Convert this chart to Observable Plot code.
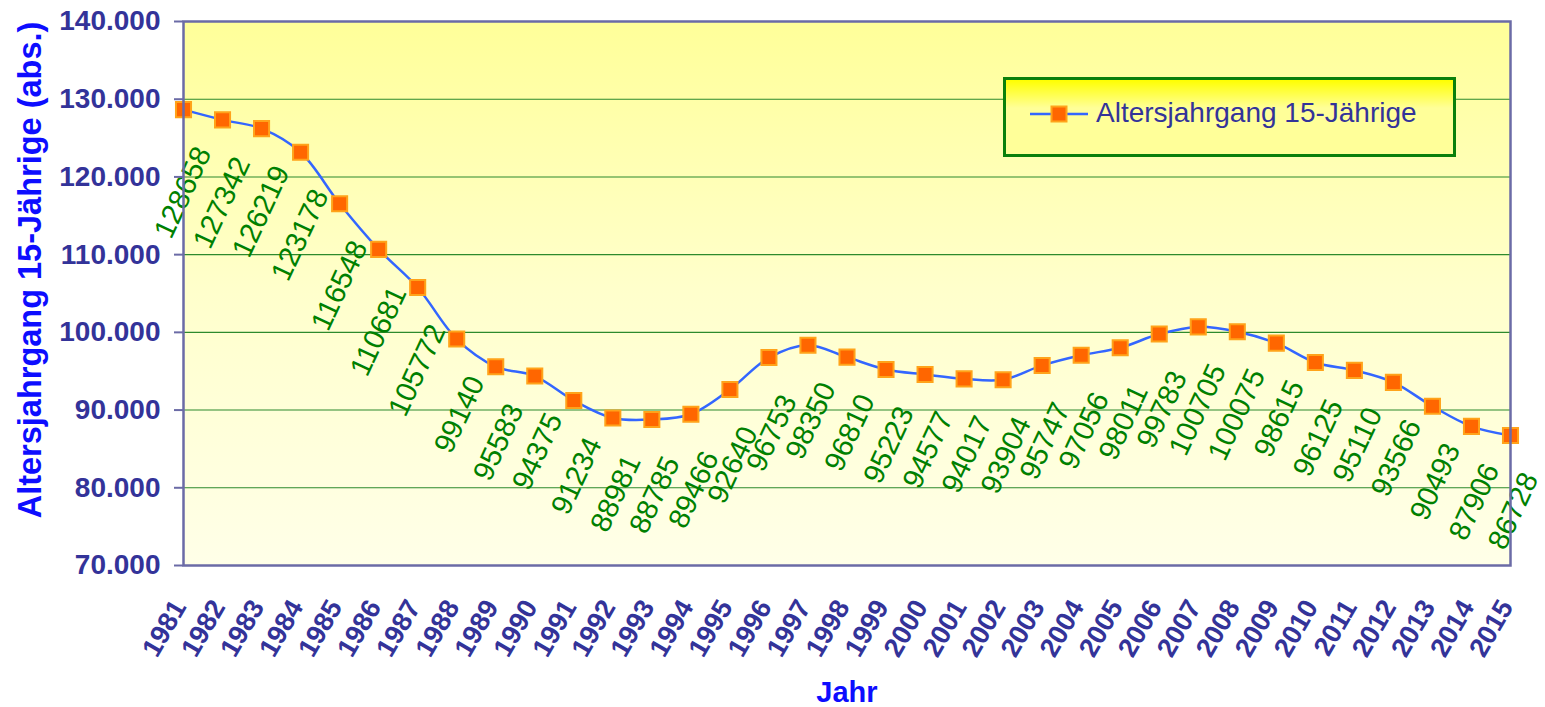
<!DOCTYPE html>
<html><head><meta charset="utf-8">
<script src="https://cdn.jsdelivr.net/npm/d3@7"></script>
<script src="https://cdn.jsdelivr.net/npm/@observablehq/plot@0.6"></script>
<style>
body{margin:0;background:#fff;}
#wrap{position:relative;width:1545px;height:707px;font-family:"Liberation Sans",Arial,sans-serif;overflow:hidden;}
#wrap > svg{position:absolute;left:0;top:0;overflow:visible;}
.ytitle{position:absolute;left:30px;top:270px;transform:translate(-50%,-50%) rotate(-90deg);white-space:nowrap;font-weight:bold;font-size:32.5px;color:#0d0dff;line-height:33px;}
.xtitle{position:absolute;left:847px;top:678px;transform:translateX(-50%);white-space:nowrap;font-weight:bold;font-size:29px;line-height:29px;color:#0d0dff;}
.legend{position:absolute;left:1003px;top:77px;width:453px;height:80px;box-sizing:border-box;border:3px solid #0b800b;background:linear-gradient(to bottom,#ffff00 0%,#ffff99 38%,#ffff99 100%);}
.legend .sym{position:absolute;left:24px;top:24px;}
.legend span{position:absolute;left:90px;top:19px;font-size:28px;line-height:28px;color:#333399;white-space:nowrap;}
</style></head><body><div id="wrap"></div>
<script>
const years = [1981,1982,1983,1984,1985,1986,1987,1988,1989,1990,1991,1992,1993,1994,1995,1996,1997,1998,1999,2000,2001,2002,2003,2004,2005,2006,2007,2008,2009,2010,2011,2012,2013,2014,2015];
const values = [128658,127342,126219,123178,116548,110681,105772,99140,95583,94375,91234,88981,88785,89466,92640,96753,98350,96810,95223,94577,94017,93904,95747,97056,98011,99783,100705,100075,98615,96125,95110,93566,90493,87906,86728];
const yTicks = [70000,80000,90000,100000,110000,120000,130000,140000];
const gridValues = [80000,90000,100000,110000,120000,130000];
const seriesName = "Altersjahrgang 15-Jährige";
const yTitle = "Altersjahrgang 15-Jährige (abs.)";
const xTitle = "Jahr";

const data = years.map((year, i) => ({year, value: values[i]}));
const de = d3.formatLocale({decimal: ",", thousands: ".", grouping: [3], currency: ["", " €"]});
const fmt = de.format(",");

const svg = Plot.plot({
  width: 1545, height: 707,
  marginLeft: 183, marginRight: 35, marginTop: 21, marginBottom: 142,
  style: {fontFamily: '"Liberation Sans", Arial, sans-serif', background: "transparent", overflow: "visible"},
  x: {type: "linear", domain: [1981, 2015], label: null},
  y: {domain: [70000, 140000], label: null},
  marks: [
    Plot.frame({fill: "url(#plotBg)"}),
    Plot.gridY(gridValues, {stroke: "#2d8a2d", strokeOpacity: 1, strokeWidth: 1.1}),
    Plot.line(data, {x: "year", y: "value", stroke: "#3366ff", strokeWidth: 2.5, curve: "catmull-rom"}),
    Plot.dot(data, {x: "year", y: "value", symbol: "square", r: 8.5, fill: "#ff6600", stroke: "#ffa31a", strokeWidth: 2}),
    Plot.text(data, {x: "year", y: "value", text: d => String(d.value), rotate: -65, textAnchor: "end", lineAnchor: "middle", dx: 20, dy: 39, fill: "#008000", fontSize: 29}),
    Plot.frame({stroke: "#6b6ba6", strokeWidth: 2.5}),
    Plot.axisY(yTicks, {tickSize: 9, tickPadding: 14, tickFormat: fmt, fontSize: 28, fontWeight: "bold", color: "#333399"}),
    Plot.axisX(years, {tickSize: 0, tickPadding: 0, tickFormat: d => String(d), tickRotate: -60, textAnchor: "end", lineAnchor: "middle", dx: -4, dy: 37, fontSize: 27, fontWeight: "bold", color: "#333399"})
  ]
});

d3.select(svg).insert("defs", ":first-child").html(
  '<linearGradient id="plotBg" x1="0" y1="0" x2="0" y2="1">' +
  '<stop offset="0" stop-color="#ffff99"/><stop offset="0.5" stop-color="#ffffcc"/><stop offset="1" stop-color="#ffffe8"/>' +
  '</linearGradient>');
d3.select(svg).selectAll('[aria-label="y-axis tick"]').attr("stroke", "#6b6ba6").attr("stroke-width", 2);

const wrap = document.getElementById("wrap");
wrap.appendChild(svg);

const yt = document.createElement("div"); yt.className = "ytitle"; yt.textContent = yTitle; wrap.appendChild(yt);
const xt = document.createElement("div"); xt.className = "xtitle"; xt.textContent = xTitle; wrap.appendChild(xt);

const lg = document.createElement("div"); lg.className = "legend";
lg.innerHTML = '<svg class="sym" width="60" height="20"><line x1="0" y1="10" x2="58" y2="10" stroke="#3366ff" stroke-width="2.5"/>' +
  '<rect x="21.5" y="2.5" width="15" height="15" fill="#ff6600" stroke="#ffa31a" stroke-width="2"/></svg>';
const ls = document.createElement("span"); ls.textContent = seriesName; lg.appendChild(ls);
wrap.appendChild(lg);
</script>
</body></html>
